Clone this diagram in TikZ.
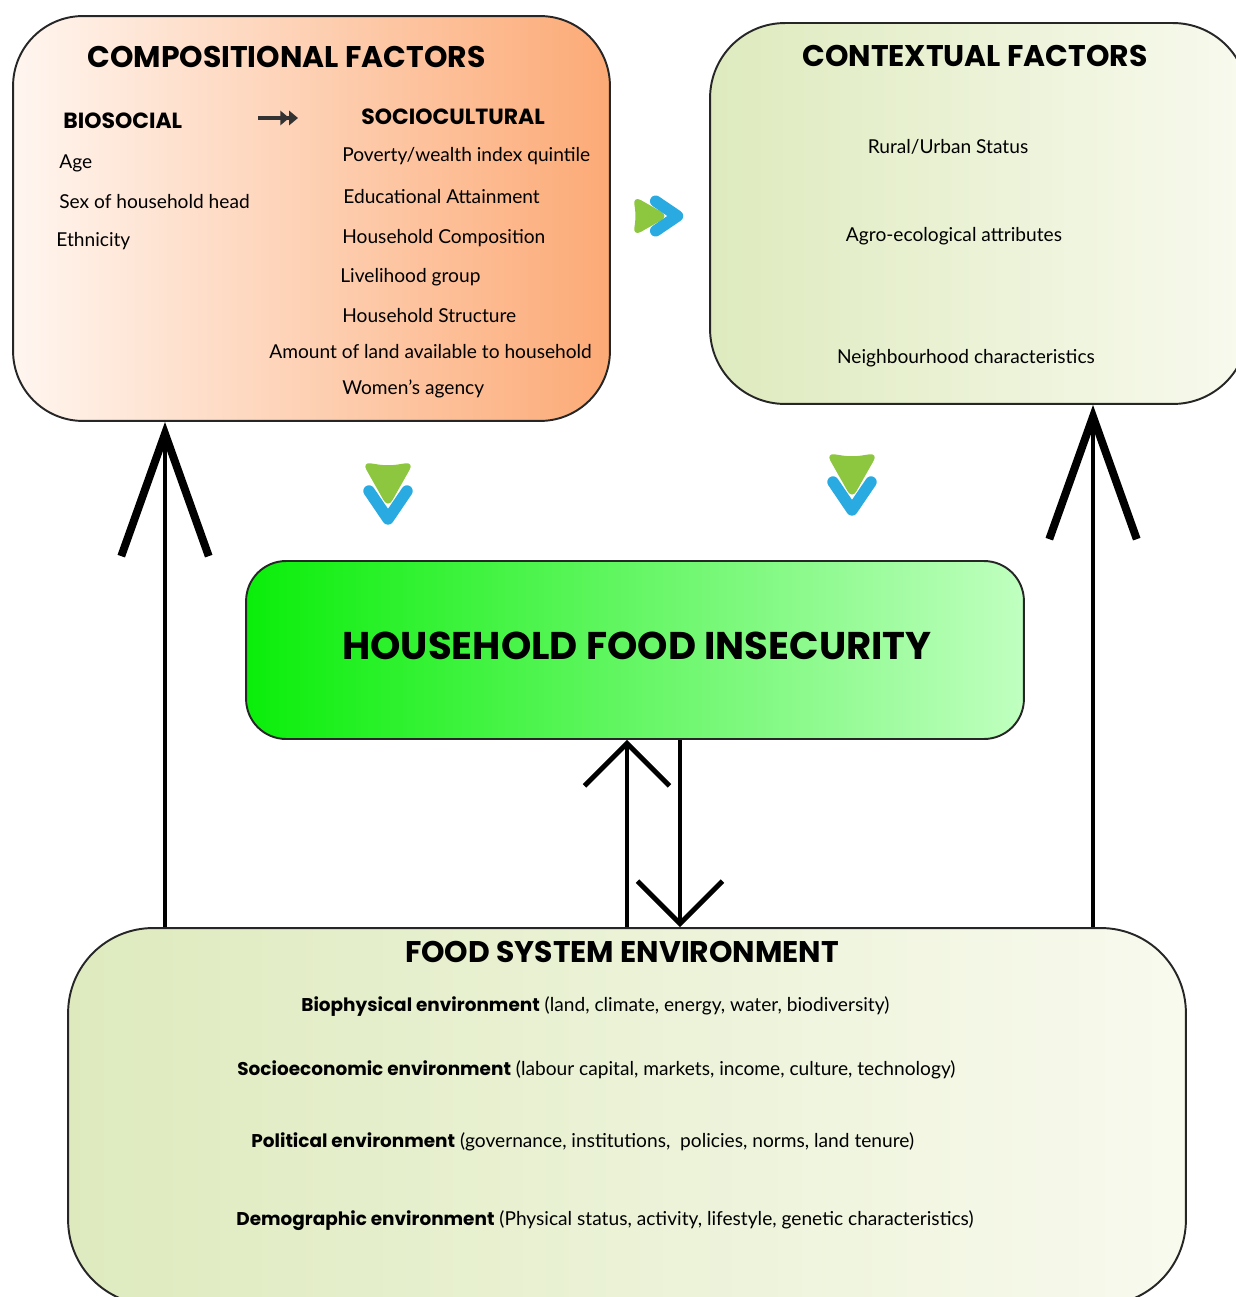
\documentclass[tikz,border=0pt]{standalone}
\usepackage{fontspec}
\setmainfont{Lato}
\newfontfamily\headfont{Poppins}
\usetikzlibrary{arrows.meta}

\definecolor{compL}{RGB}{255,246,240}
\definecolor{compR}{RGB}{252,170,118}
\definecolor{ctxL}{RGB}{222,234,190}
\definecolor{ctxR}{RGB}{248,250,238}
\definecolor{hfiL}{RGB}{10,238,10}
\definecolor{hfiR}{RGB}{192,255,192}
\definecolor{chevgreen}{RGB}{141,198,63}
\definecolor{chevblue}{RGB}{41,171,226}

\tikzset{
  box/.style={draw=black!85, line width=1.1pt, inner sep=0},
  head/.style={font=\headfont\bfseries\fontsize{17}{20}\selectfont, anchor=west, inner sep=0},
  subhead/.style={font=\headfont\bfseries\fontsize{12.5}{14}\selectfont, anchor=west, inner sep=0},
  item/.style={font=\fontsize{10.9}{12}\selectfont, anchor=west, inner sep=0},
  envitem/.style={font=\fontsize{10.9}{12}\selectfont, anchor=west, inner sep=0},
  bigarrow/.style={line width=2.8pt, -{Straight Barb[length=2.45cm, width=1.75cm, line width=4.5pt]}},
  midarrow/.style={line width=2.8pt, -{Straight Barb[length=0.85cm, width=1.7cm, line width=2.8pt]}},
  dblchev/.pic={
    \fill[chevgreen, rounded corners=5pt] (-26,-32) -- (0,-28) -- (26,-32) -- (0,14) -- cycle;
    \draw[chevblue, line width=6.5pt, line cap=round, line join=round] (-19,-3) -- (0,25) -- (19,-3);
  }
}
\newcommand{\envbold}[1]{{\headfont\bfseries\fontsize{10.5}{12}\selectfont #1}}

\begin{document}
\begin{tikzpicture}[x=0.02cm, y=-0.02cm]
  \useasboundingbox (0,0) rectangle (1236,1297);
  \clip (0,0) rectangle (1236,1297);

  % Boxes
  \node[box, rounded corners=1.4cm, left color=compL, right color=compR,
        minimum width=11.94cm, minimum height=8.1cm] (comp) at (311.5,218.5) {};
  \node[box, rounded corners=1.5cm, left color=ctxL, right color=ctxR,
        minimum width=10.76cm, minimum height=7.62cm] (ctx) at (979,213.5) {};
  \node[box, rounded corners=0.8cm, left color=hfiL, right color=hfiR,
        minimum width=15.56cm, minimum height=3.56cm] (hfi) at (635,650) {};
  \node[box, rounded corners=1.7cm, left color=ctxL, right color=ctxR,
        minimum width=22.36cm, minimum height=7.54cm] (fse) at (627,1116.5) {};

  % Compositional factors
  \node[head] (compT) at (87,57) {COMPOSITIONAL FACTORS};
  \node[subhead] (bio) at (63,121) {BIOSOCIAL};
  \node[subhead] (soc) at (361,117) {SOCIOCULTURAL};
  \coordinate (bioA) at (258,118);
  \coordinate (bioB) at (298,118);
  \draw[black!80, line width=2pt, -{Triangle[length=5pt,width=8pt] Triangle[length=5pt,width=8pt]}] (bioA) -- (bioB);
  \node[item] (age) at (59,163) {Age};
  \node[item] (sex) at (59,202) {Sex of household head};
  \node[item] (eth) at (56,241) {Ethnicity};
  \node[item] (pov) at (342,156) {Poverty/wealth index quintile};
  \node[item] (edu) at (343,197) {Educational Attainment};
  \node[item] (hcomp) at (342,238) {Household Composition};
  \node[item] (liv) at (340,277) {Livelihood group};
  \node[item] (hstr) at (342,316) {Household Structure};
  \node[item] (land) at (269,352) {Amount of land available to household};
  \node[item] (wom) at (342,389) {Women's agency};

  % Contextual factors
  \node[head] (ctxT) at (802,56) {CONTEXTUAL FACTORS};
  \node[item, anchor=center] (rur) at (948,147) {Rural/Urban Status};
  \node[item, anchor=center] (agro) at (954,236) {Agro-ecological attributes};
  \node[item, anchor=center] (nbh) at (966,358) {Neighbourhood characteristics};

  % Household food insecurity
  \node[font=\headfont\bfseries\fontsize{22}{26}\selectfont, inner sep=0] (hfiT) at (637,646) {HOUSEHOLD FOOD INSECURITY};

  % Food system environment
  \node[head, anchor=center] (fseT) at (622,952) {FOOD SYSTEM ENVIRONMENT};
  \node[envitem] (bioph) at (301,1007) {\envbold{Biophysical environment} (land, climate, energy, water, biodiversity)};
  \node[envitem] (socio) at (237,1070) {\envbold{Socioeconomic environment} (labour capital, markets, income, culture, technology)};
  \node[envitem] (pol) at (251,1142) {\envbold{Political environment} (governance, institutions,\ \ policies, norms, land tenure)};
  \node[envitem] (demo) at (236,1221) {\envbold{Demographic environment} (Physical status, activity, lifestyle, genetic characteristics)};

  % Chevrons
  \pic[rotate=90, scale=0.78] (chR) at (658,216) {dblchev};
  \pic (chL) at (388,494) {dblchev};
  \pic (chC) at (852,485) {dblchev};

  % Arrows
  \coordinate (upL) at (165,0);
  \coordinate (upR) at (1093,0);
  \coordinate (upM) at (627,0);
  \coordinate (downM) at (680,0);
  \draw[bigarrow] (fse.north -| upL) -- (comp.south -| upL);
  \draw[bigarrow] (fse.north -| upR) -- (ctx.south -| upR);
  \draw[midarrow] (fse.north -| upM) -- (hfi.south -| upM);
  \draw[midarrow] (hfi.south -| downM) -- (fse.north -| downM);
\end{tikzpicture}
\end{document}
